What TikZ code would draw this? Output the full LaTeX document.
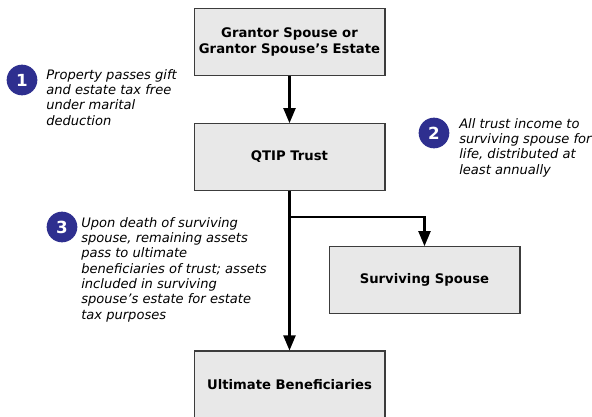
\documentclass[tikz,border=0pt]{standalone}
\usepackage{fontspec}
\setmainfont{DejaVu Sans}
\usetikzlibrary{arrows,positioning,calc}

\definecolor{boxgray}{HTML}{E8E8E8}
\definecolor{edgegray}{HTML}{3C3C3C}
\definecolor{stepblue}{HTML}{2E2F8F}

\tikzset{
  party/.style={draw=edgegray, fill=boxgray, line width=1pt, minimum width=143pt,
    minimum height=50pt, align=center, font=\fontsize{9.9}{12}\selectfont\bfseries},
  stepnum/.style={circle, fill=stepblue, text=white, minimum size=23pt, inner sep=0pt,
    font=\fontsize{12.5}{14}\selectfont\bfseries},
  note/.style={anchor=north west, align=left, inner sep=0pt,
    font=\fontsize{9.8}{11.5}\selectfont\itshape},
  flow/.style={line width=1.6pt, -triangle 45}
}

\begin{document}
\begin{tikzpicture}[x=0.75pt,y=-0.75pt]
\useasboundingbox (0,0) rectangle (592,417);
\begin{scope}
\clip (0,0) rectangle (592,417);
% boxes
\node[party] (grantor) at (289.5,42) {Grantor Spouse or\\Grantor Spouse's Estate};
\node[party] (qtip) at (289.5,157) {QTIP Trust};
\node[party] (spouse) at (424.5,280) {Surviving Spouse};
\node[party, minimum height=51pt] (benef) at (289.5,385) {Ultimate Beneficiaries};
\end{scope}

% numbered notes
\node[stepnum] (n1) at (22,80) {1};
\node[note] (t1) at (46,69) {Property passes gift\\and estate tax free\\under marital\\deduction};
\node[stepnum] (n2) at (434,133) {2};
\node[note] (t2) at (459,118) {All trust income to\\surviving spouse for\\life, distributed at\\least annually};
\node[stepnum] (n3) at (62,227) {3};
\node[note] (t3) at (81,217) {Upon death of surviving\\spouse, remaining assets\\pass to ultimate\\beneficiaries of trust; assets\\included in surviving\\spouse's estate for estate\\tax purposes};

% connectors
\coordinate (split) at ($(qtip.south)+(0,26)$);
\draw[flow] (grantor) -- (qtip);
\draw[flow] (qtip) -- (benef);
\draw[flow] (split) -| (spouse);
\end{tikzpicture}
\end{document}
